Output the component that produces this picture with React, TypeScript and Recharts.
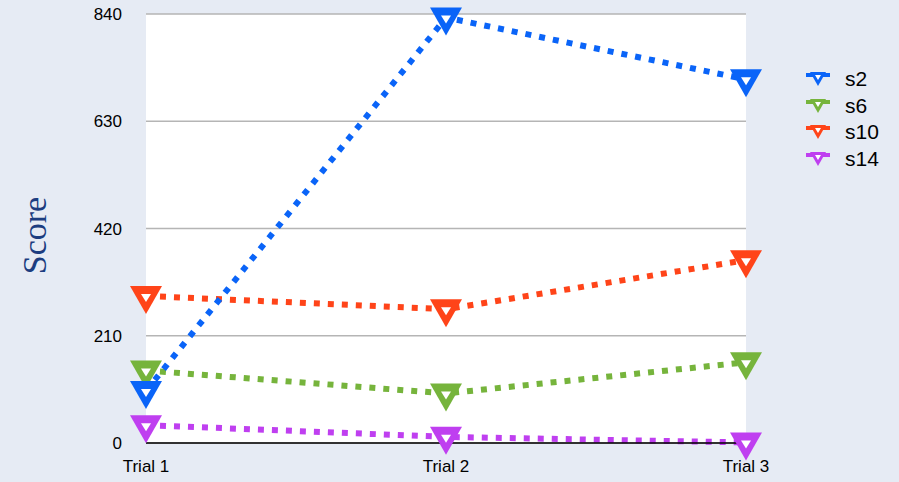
import { LineChart, Line, CartesianGrid, XAxis, YAxis, Label } from 'recharts';

const categories = ['Trial 1', 'Trial 2', 'Trial 3'];
const s2 = [102, 833, 712];
const s6 = [142, 97, 158];
const s10 = [288, 262, 358];
const s14 = [35, 12, 1];
const yTicks = [0, 210, 420, 630, 840];

const seriesList = [
  { name: 's2', values: s2, color: '#0a64f8' },
  { name: 's6', values: s6, color: '#76b43c' },
  { name: 's10', values: s10, color: '#ff4419' },
  { name: 's14', values: s14, color: '#bf3ff0' },
];

const data = categories.map((c, i) => {
  const row: any = { name: c };
  seriesList.forEach((s) => { row[s.name] = s.values[i]; });
  return row;
});

const makeDot = (color: string) => (ctx: any) => {
  const { cx, cy, index } = ctx;
  if (cx == null || cy == null) return <g key={index} />;
  const top = cy - 10;
  return (
    <g key={index}>
      <polygon points={`${cx - 16},${top} ${cx + 16},${top} ${cx},${top + 28}`} fill={color} />
      <polygon points={`${cx - 5},${top + 8} ${cx + 5},${top + 8} ${cx},${top + 16}`} fill="#fff" />
    </g>
  );
};

const ScoreLabel = (ctx: any) => {
  const { viewBox } = ctx;
  const x = viewBox.x + 34;
  const y = viewBox.y + viewBox.height / 2 + 7;
  return (
    <text x={x} y={y} transform={`rotate(-90, ${x}, ${y})`} textAnchor="middle" dominantBaseline="central"
      fill="#1c3d80" fontSize={34} fontFamily="'Liberation Serif', serif">
      Score
    </text>
  );
};

const LegendBox = () => (
  <div style={{ position: 'absolute', left: 806, top: 66, fontFamily: "'Liberation Sans', Arial, sans-serif", fontSize: 21, color: '#000' }}>
    {seriesList.map((s) => (
      <div key={s.name} style={{ display: 'flex', alignItems: 'center', height: 26.5 }}>
        <svg width={24} height={18} style={{ marginRight: 15 }}>
          <line x1={0} y1={5} x2={24} y2={5} stroke={s.color} strokeWidth={4} />
          <polygon points="4,2 20,2 12,16" fill={s.color} />
          <polygon points="9,5 15,5 12,10" fill="#fff" />
        </svg>
        <span>{s.name}</span>
      </div>
    ))}
  </div>
);

const App = () => {
  const order = [s14, s10, s6, s2].map((v) => seriesList.find((s) => s.values === v)!);
  return (
    <div style={{ position: 'absolute', left: 0, top: 0, width: 899, height: 482, background: '#e6ebf4', overflow: 'hidden' }}>
      <LineChart width={899} height={482} data={data} margin={{ top: 14, right: 153, bottom: 0, left: 0 }}>
        <CartesianGrid vertical={false} stroke="#b5b5b5" strokeWidth={1.5} fill="#ffffff" />
        <XAxis dataKey="name" padding={{ left: 0, right: 0 }} height={39} stroke="#000" strokeWidth={1.5}
          tickLine={false} tickSize={0} tickMargin={17}
          tick={{ fill: '#000', fontSize: 17, fontFamily: "'Liberation Sans', Arial, sans-serif" }} />
        <YAxis domain={[0, 840]} ticks={yTicks} width={146} axisLine={false} tickLine={false} tickSize={0} tickMargin={24}
          tick={{ fill: '#000', fontSize: 17, fontFamily: "'Liberation Sans', Arial, sans-serif" }}>
          <Label content={ScoreLabel} />
        </YAxis>
        {order.map((s) => (
          <Line key={s.name} dataKey={s.name} stroke={s.color} strokeWidth={6} strokeDasharray="6 8"
            dot={makeDot(s.color)} activeDot={false} isAnimationActive={false} />
        ))}
      </LineChart>
      <LegendBox />
    </div>
  );
};

export default App;
